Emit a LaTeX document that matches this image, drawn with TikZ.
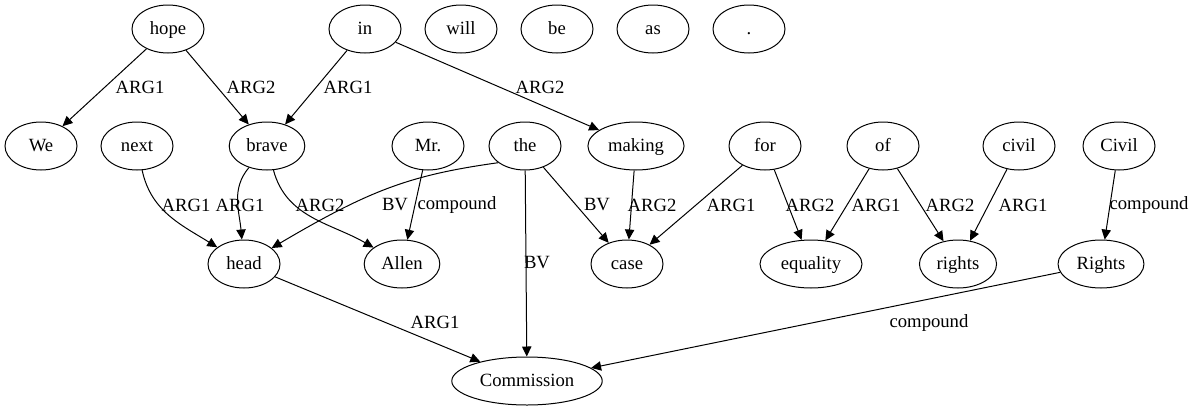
\documentclass[tikz,border=0pt]{standalone}
\usepackage{fontspec}
\setmainfont{Liberation Serif}
\usetikzlibrary{arrows.meta,shapes.geometric}

\begin{document}
\begin{tikzpicture}[x=0.75pt, y=-0.75pt,
        font=\fontsize{14}{16}\selectfont, line width=0.75pt,
        word/.style={draw, ellipse, minimum width=54pt, minimum height=36pt, inner xsep=4.5pt, inner ysep=3pt, text height=10.5pt, text depth=3pt},
        edge/.style={draw, -{Triangle[length=7.5pt,width=7pt]}},
        lbl/.style={inner sep=0pt}]
        \useasboundingbox (0,0) rectangle (1193,411);
        \node[word] (hope)  at (168,29)  {hope};
        \node[word] (in)    at (365,29)  {in};
        \node[word] (will)  at (461,29)  {will};
        \node[word] (be)    at (557,29)  {be};
        \node[word] (as)    at (653,29)  {as};
        \node[word] (stop)  at (749,29)  {.};
        \node[word] (We)    at (41,146)  {We};
        \node[word] (next)  at (137,146) {next};
        \node[word] (brave) at (267,146) {brave};
        \node[word] (mr)    at (428,146) {Mr.};
        \node[word] (the)   at (525,146) {the};
        \node[word] (making) at (636,146) {making};
        \node[word] (for)   at (765,146) {for};
        \node[word] (of)    at (883,146) {of};
        \node[word] (civil) at (1019,146) {civil};
        \node[word] (Civil) at (1119,146) {Civil};
        \node[word] (head)  at (244,264) {head};
        \node[word] (Allen) at (402,264) {Allen};
        \node[word] (case)  at (627,264) {case};
        \node[word] (equality) at (811,264) {equality};
        \node[word] (rights) at (958,264) {rights};
        \node[word] (Rights) at (1101,264) {Rights};
        \node[word] (Commission) at (527,381) {Commission};
        \path[edge] (hope) -- (We) node[lbl] at (140,87) {ARG1};
        \path[edge] (hope) -- (brave) node[lbl] at (251,87) {ARG2};
        \path[edge] (in) -- (brave) node[lbl] at (348,87) {ARG1};
        \path[edge] (in) -- (making) node[lbl] at (540,87) {ARG2};
        \path[edge] (next) to[out=-78, in=148] (head) node[lbl] at (186,205) {ARG1};
        \path[edge] (brave) to[out=-130, in=95] (head) node[lbl] at (240,205) {ARG1};
        \path[edge] (brave) to[out=-75, in=150] (Allen) node[lbl] at (320,205) {ARG2};
        \path[edge] (the.212) .. controls (410,175) and (370,190) .. (head.30) node[lbl] at (395,205) {BV};
        \path[edge] (mr) -- (Allen) node[lbl] at (457,205) {compound};
        \path[edge] (the) -- (Commission) node[lbl] at (537,263) {BV};
        \path[edge] (the) -- (case) node[lbl] at (597,205) {BV};
        \path[edge] (making) -- (case) node[lbl] at (652,205) {ARG2};
        \path[edge] (for) -- (case) node[lbl] at (731,205) {ARG1};
        \path[edge] (for) -- (equality) node[lbl] at (810,205) {ARG2};
        \path[edge] (of) -- (equality) node[lbl] at (876,205) {ARG1};
        \path[edge] (of) -- (rights) node[lbl] at (950,205) {ARG2};
        \path[edge] (civil) -- (rights) node[lbl] at (1023,205) {ARG1};
        \path[edge] (Civil) -- (Rights) node[lbl] at (1149,205) {compound};
        \path[edge] (head) -- (Commission) node[lbl] at (435,322) {ARG1};
        \path[edge] (Rights) -- (Commission) node[lbl] at (929,323) {compound};
    \end{tikzpicture}
\end{document}
